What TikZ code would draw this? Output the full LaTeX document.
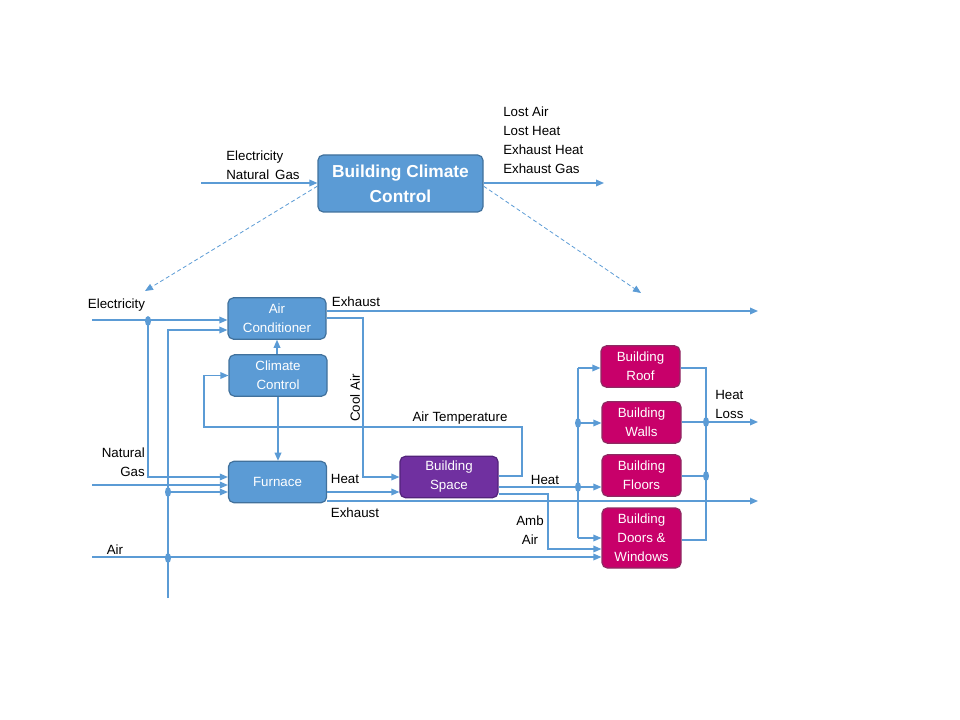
\documentclass[tikz,border=0pt]{standalone}
\usepackage{fontspec}
\setmainfont{Liberation Sans}
\usetikzlibrary{arrows.meta}
\definecolor{boxblue}{HTML}{5B9BD5}
\definecolor{edgeblue}{HTML}{41719C}
\definecolor{spacepurple}{HTML}{7030A0}
\definecolor{edgepurple}{HTML}{52237A}
\definecolor{partpink}{HTML}{C8006A}
\definecolor{edgepink}{HTML}{8E2A62}
\definecolor{flowblue}{HTML}{5B9BD5}
\tikzset{
  box/.style={draw=edgeblue, fill=boxblue, line width=0.9pt, rounded corners=4pt,
    text=white, align=center, inner sep=0pt, minimum width=73.5pt,
    minimum height=31pt, font=\fontsize{10}{14.25}\selectfont},
  mainbox/.style={box, minimum width=123.75pt, minimum height=42.75pt,
    font=\fontsize{13}{18.75}\selectfont\bfseries},
  spacebox/.style={box, draw=edgepurple, fill=spacepurple},
  partbox/.style={box, draw=edgepink, fill=partpink, minimum width=59.25pt},
  flow/.style={draw=flowblue, line width=0.9pt, -{Triangle[length=6pt,width=5pt]}},
  link/.style={draw=flowblue, line width=0.9pt},
  dashflow/.style={flow, dash pattern=on 3pt off 2pt, line width=0.6pt},
  lbl/.style={font=\fontsize{10}{14.25}\selectfont, align=left, inner sep=0pt},
}
\begin{document}
\begin{tikzpicture}[x=0.75pt,y=-0.75pt]
  \useasboundingbox (0,0) rectangle (960,720);
  % boxes
  \node[mainbox] (BCC) at (400.5,183.5) {Building Climate\\Control};
  \node[box] (AC) at (277,318.5) {Air\\Conditioner};
  \node[box] (CC) at (278,375.5) {Climate\\Control};
  \node[box] (Furnace) at (277.5,482) {Furnace};
  \node[spacebox] (Space) at (449,477) {Building\\Space};
  \node[partbox] (Roof) at (640.5,366.5) {Building\\Roof};
  \node[partbox] (Walls) at (641.5,422.5) {Building\\Walls};
  \node[partbox] (Floors) at (641.5,475.5) {Building\\Floors};
  \node[partbox, minimum height=45pt] (Doors) at (641.5,538) {Building\\Doors \&\\Windows};
  % labels
  \node[lbl, anchor=west] (topinlbl) at (226,165) {Electricity\\Natural\,\ Gas};
  \node[lbl, anchor=west] (topoutlbl) at (503,140) {Lost Air\\Lost Heat\\Exhaust Heat\\Exhaust Gas};
  \node[lbl] (eleclbl) at (116.5,305) {Electricity};
  \node[lbl, align=right, anchor=east] (gaslbl) at (145,462) {Natural\\Gas};
  \node[lbl] (airlbl) at (115,550) {Air};
  \node[lbl] (acexhlbl) at (356,302) {Exhaust};
  \node[lbl, rotate=90] (coollbl) at (355,398) {Cool Air};
  \node[lbl] (templbl) at (460,418) {Air Temperature};
  \node[lbl] (fheatlbl) at (345,479) {Heat};
  \node[lbl] (fexhlbl) at (355,513) {Exhaust};
  \node[lbl] (sheatlbl) at (545,480) {Heat};
  \node[lbl, align=center] (amblbl) at (530,530) {Amb\\Air};
  \node[lbl, anchor=west] (losslbl) at (715,404) {Heat\\Loss};
  % free ends, bends and junctions
  \coordinate (topin) at (201,183);
  \coordinate (topout) at (604,183);
  \coordinate (dleft) at (145,291);
  \coordinate (dright) at (641,293);
  \coordinate (elecin) at (92,320);
  \coordinate (gasin) at (92,485);
  \coordinate (airin) at (92,557);
  \coordinate (airbot) at (168,598);
  \coordinate (elecbend) at (148,477);
  \coordinate (acexh) at (758,311);
  \coordinate (coolbend) at (363,318);
  \coordinate (tempup) at (522,427);
  \coordinate (tempback) at (204,427);
  \coordinate (fexh) at (758,501);
  \coordinate (ambbend) at (548,494);
  \coordinate (spltop) at (578,368);
  \coordinate (splbot) at (578,538);
  \coordinate (losstop) at (706,368);
  \coordinate (lossbot) at (706,540);
  \coordinate (heatout) at (758,422);
  \coordinate (j1) at (148,321);
  \coordinate (j2) at (168,492);
  \coordinate (j3) at (168,558);
  \coordinate (j4) at (578,487);
  \coordinate (j5) at (578,423);
  \coordinate (j6) at (706,422);
  \coordinate (j7) at (706,476);
  % top level
  \draw[flow] (topin) -- (BCC.west |- topin);
  \draw[flow] (BCC.east |- topout) -- (topout);
  \draw[dashflow] ([yshift=-2pt]BCC.west) -- (dleft);
  \draw[dashflow] ([yshift=-2pt]BCC.east) -- (dright);
  % inputs
  \draw[flow] (elecin) -- (elecin -| AC.west);
  \draw[flow] (j1) -- (elecbend) -- (elecbend -| Furnace.west);
  \draw[flow] (airbot) |- (AC.west |- 0,330);
  \draw[flow] (gasin) -- (gasin -| Furnace.west);
  \draw[flow] (j2) -- (j2 -| Furnace.west);
  \draw[flow] (airin) -- (airin -| Doors.west);
  % air conditioner and furnace
  \draw[flow] (AC.east |- acexh) -- (acexh);
  \draw[flow] (AC.east |- coolbend) -- (coolbend) |- (Space.west |- 0,477);
  \draw[flow] (CC.north -| AC.south) -- (AC.south);
  \draw[flow] (CC.south) -- (CC.south |- Furnace.north);
  \draw[flow] (Space.east |- 0,476) -| (tempup) -- (tempback) |- (CC.west);
  \draw[flow] (Furnace.east |- j2) -- (Space.west |- j2);
  \draw[flow] (Furnace.east |- fexh) -- (fexh);
  % building space to building parts
  \draw[flow] (Space.east |- j4) -- (Floors.west |- j4);
  \draw[flow] (Space.east |- ambbend) -- (ambbend) |- (Doors.west |- 0,549);
  \draw[link] (spltop) -- (splbot);
  \draw[flow] (spltop) -- (spltop -| Roof.west);
  \draw[flow] (j5) -- (j5 -| Walls.west);
  \draw[flow] (splbot) -- (splbot -| Doors.west);
  % heat loss
  \draw[link] (Roof.east |- losstop) -- (losstop) -- (lossbot) -- (Doors.east |- lossbot);
  \draw[flow] (Walls.east |- j6) -- (heatout);
  \draw[link] (Floors.east |- j7) -- (j7);
  \foreach \j in {j1,j2,j3,j4,j5,j6,j7}
    \fill[flowblue] (\j) ellipse (2.25pt and 3.75pt);
\end{tikzpicture}
\end{document}
